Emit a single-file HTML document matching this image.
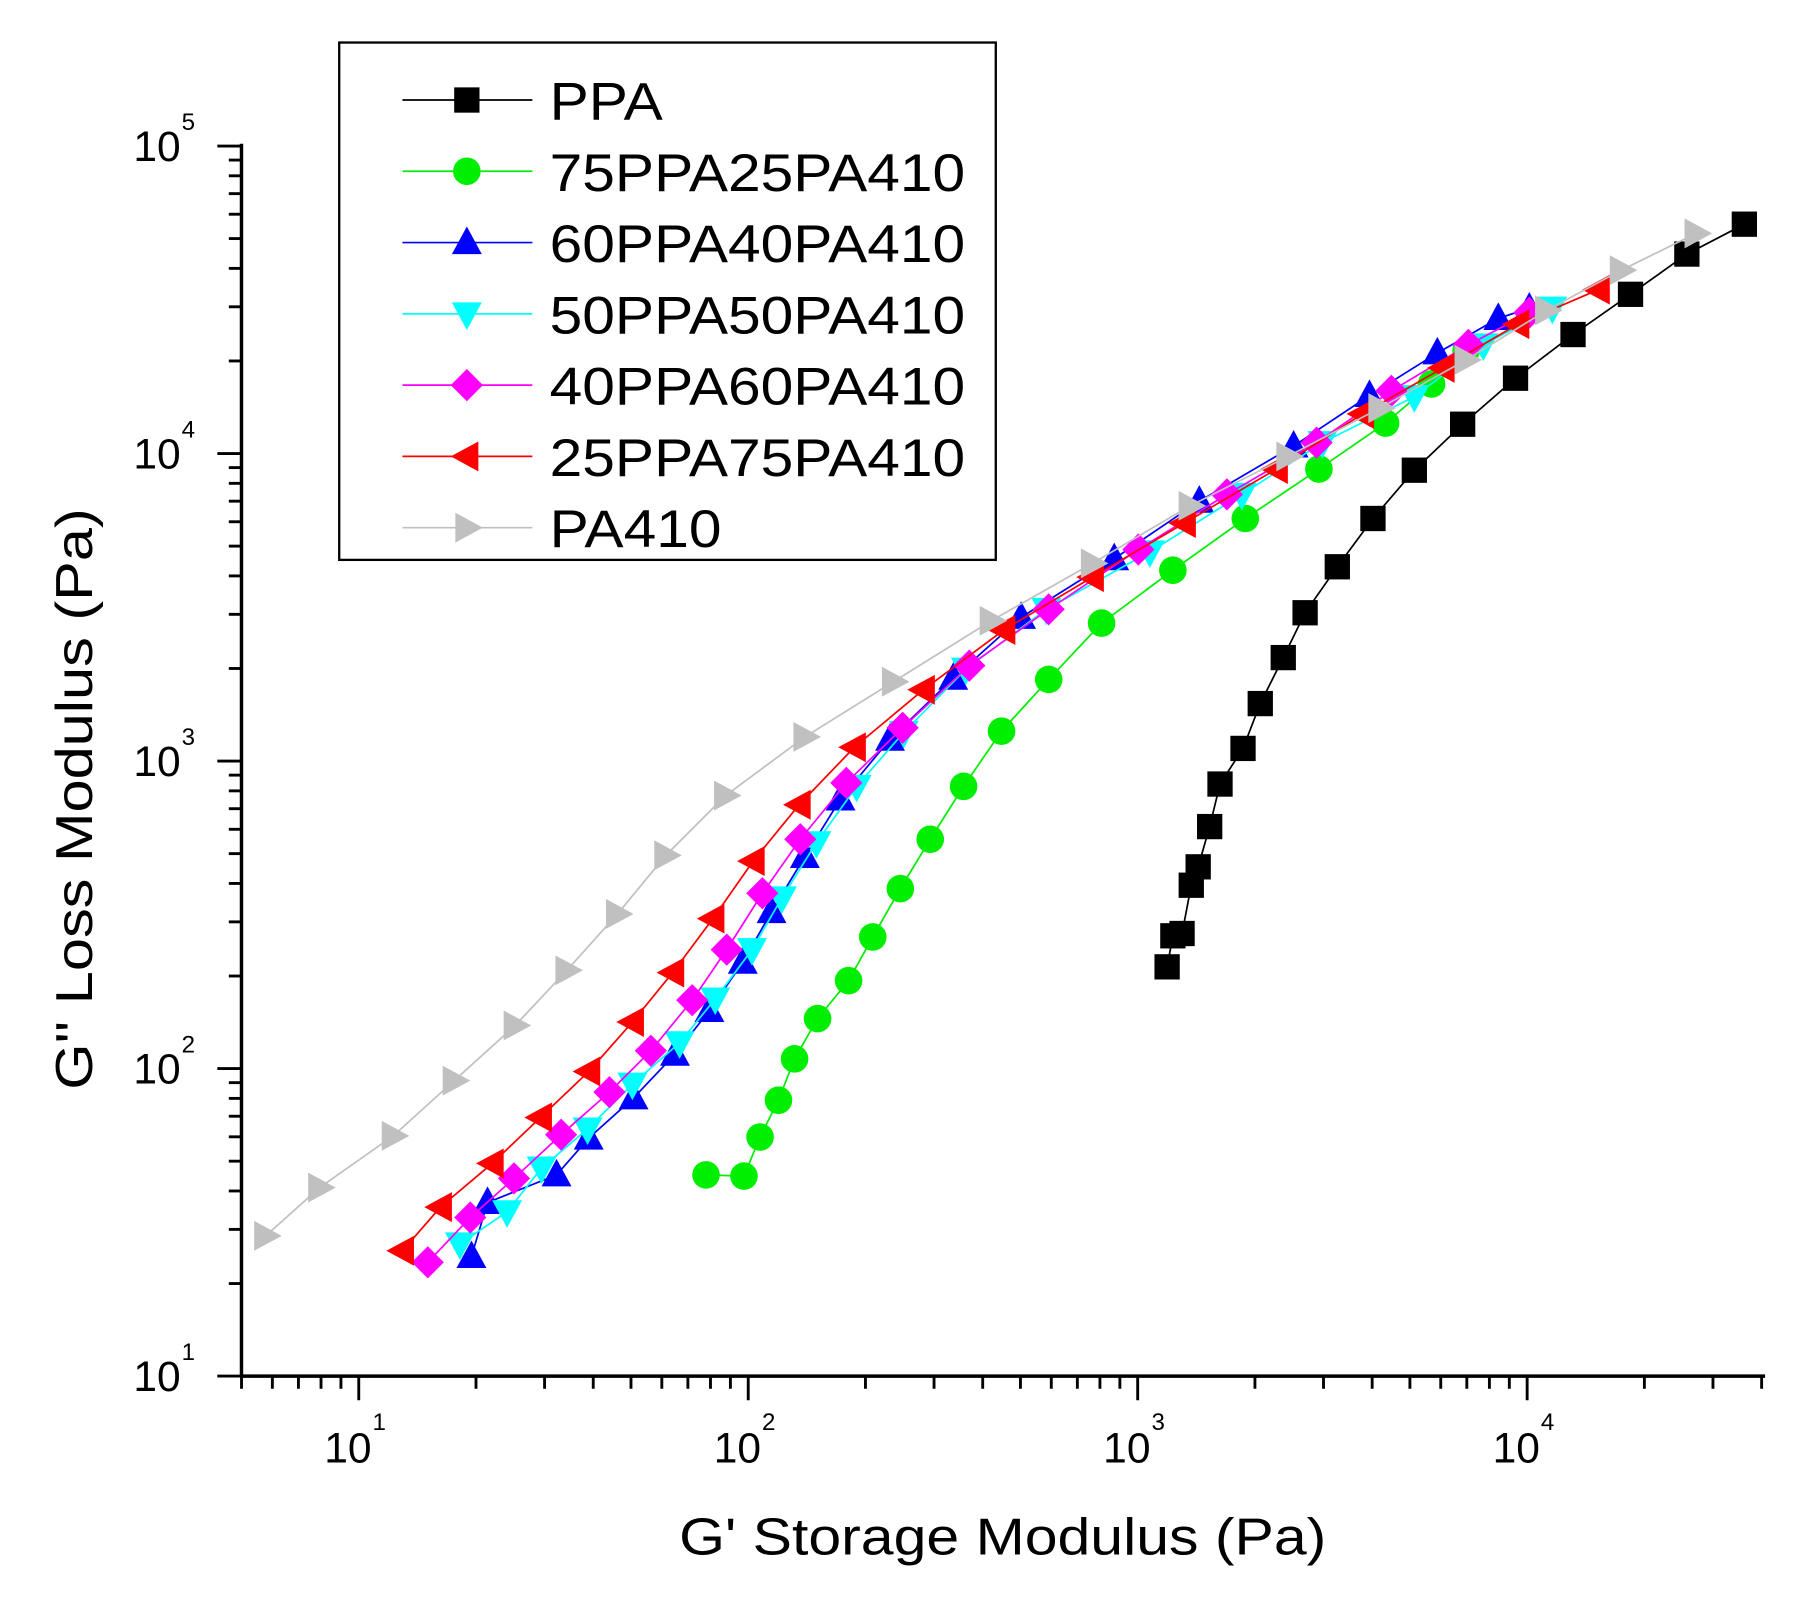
<!DOCTYPE html>
<html><head><meta charset="utf-8"><style>
html,body{margin:0;padding:0;background:#fff;}
svg{display:block;}
text{font-family:"Liberation Sans",Arial,sans-serif;fill:#000;}
</style></head><body>
<svg id="s" width="1803" height="1598" viewBox="0 0 1568 1390" preserveAspectRatio="none" xmlns="http://www.w3.org/2000/svg">
<rect width="1568" height="1390" fill="#fff"/>
<g id="axes" stroke="#000" stroke-width="3" fill="none">
<line x1="210" y1="125" x2="210" y2="1198"/>
<line x1="209" y1="1197" x2="1535" y2="1197"/>
</g>
<g id="ticks" stroke="#000" stroke-width="2.5"></g>
<g id="labels" font-size="37"></g>
<text transform="translate(872,1352) scale(1.14,1)" font-size="45" text-anchor="middle">G' Storage Modulus (Pa)</text>
<text transform="translate(80,695) rotate(-90) scale(1.15,1)" font-size="45" text-anchor="middle">G'' Loss Modulus (Pa)</text>
<g id="data"></g>
<rect x="295" y="37" width="571" height="450" fill="#fff" stroke="#000" stroke-width="2"/>
<g id="legend" font-size="46"></g>
</svg>
<script>
var NS="http://www.w3.org/2000/svg";
function el(t,a,p){var e=document.createElementNS(NS,t);for(var k in a)e.setAttribute(k,a[k]);p.appendChild(e);return e;}
var X0=312,DX=338.7,Y1=1197,DY=267.5;
function xp(v){return X0+(Math.log10(v)-1)*DX;}
function yp(v){return Y1-(Math.log10(v)-1)*DY;}
var tk=document.getElementById('ticks'),lb=document.getElementById('labels');
for(var d=0;d<=4;d++){for(var m=1;m<10;m++){var v=m*Math.pow(10,d);var x=xp(v);if(x<209||x>1536)continue;
 el('line',{x1:x,y1:1197,x2:x,y2:1197+(m==1?21:11)},tk);}}
for(var d=1;d<=5;d++){for(var m=1;m<10;m++){if(d==5&&m>1)break;var v=m*Math.pow(10,d);var y=yp(v);
 el('line',{x1:210,y1:y,x2:210-(m==1?21:11),y2:y},tk);}}
for(var d=1;d<=4;d++){var x=xp(Math.pow(10,d));var t=el('text',{x:x-30,y:1272},lb);t.textContent='10';
 var s=el('text',{x:x+12,y:1244,'font-size':21},lb);s.textContent=d;}
for(var d=1;d<=5;d++){var y=yp(Math.pow(10,d));var t=el('text',{x:116,y:y+13},lb);t.textContent='10';
 var s=el('text',{x:158,y:y-14,'font-size':21},lb);s.textContent=d;}
var series=[
{c:'#000',m:'sq',n:'PPA',p:[[1015,841],[1020,814],[1028,812],[1036,770],[1042,754],[1052,719],[1061,682],[1081,651],[1096,612],[1116,572],[1135,533],[1163,493],[1194,451],[1230,409],[1272,369],[1318,329],[1368,291],[1418,256],[1467,221],[1517,195]]},
{c:'#00ee00',m:'ci',n:'75PPA25PA410',p:[[614,1022],[647,1023],[661,989],[677,957],[691,921],[711,886],[738,853],[759,815],[783,773],[809,730],[838,684],[871,636],[912,591],[958,542],[1020,496],[1083,451],[1147,408],[1205,368],[1245,334],[1275,305]]},
{c:'#0000ff',m:'up',n:'60PPA40PA410',p:[[410,1093],[424,1046],[484,1022],[512,990],[551,955],[587,917],[617,879],[646,837],[671,793],[700,745],[731,695],[774,643],[829,590],[888,537],[969,486],[1043,436],[1125,388],[1191,344],[1250,307],[1303,277],[1330,268]]},
{c:'#00ffff',m:'dn',n:'50PPA50PA410',p:[[400,1082],[441,1054],[471,1016],[511,982],[550,943],[591,907],[622,869],[654,826],[680,781],[710,733],[745,684],[786,637],[840,582],[910,530],[1000,480],[1080,430],[1150,385],[1230,345],[1290,300],[1350,268]]},
{c:'#ff00ff',m:'di',n:'40PPA60PA410',p:[[372,1098],[409,1059],[447,1025],[488,987],[530,950],[566,914],[602,870],[632,826],[663,777],[696,730],[736,681],[785,633],[843,579],[912,530],[990,478],[1067,430],[1145,385],[1210,340],[1277,300],[1330,272]]},
{c:'#ff0000',m:'lt',n:'25PPA75PA410',p:[[350,1088],[383,1050],[428,1012],[470,972],[512,932],[550,889],[585,846],[620,799],[655,749],[695,700],[743,650],[803,600],[873,548],[950,502],[1030,455],[1110,408],[1185,360],[1255,320],[1320,282],[1390,252]]},
{c:'#c0c0c0',m:'rt',n:'PA410',p:[[231,1075],[278,1033],[342,988],[395,940],[448,892],[493,844],[537,795],[579,744],[631,692],[700,641],[777,593],[862,540],[950,490],[1035,440],[1120,397],[1200,355],[1275,313],[1345,270],[1410,235],[1475,203]]}
];
function mk(g,t,x,y,c){var r=12;
 if(t=='sq')el('rect',{x:x-11,y:y-11,width:22,height:22,fill:c},g);
 else if(t=='ci')el('circle',{cx:x,cy:y,r:12,fill:c},g);
 else{var p;
  if(t=='up')p=[[x,y-r-2],[x-r-1,y+r-2],[x+r+1,y+r-2]];
  if(t=='dn')p=[[x,y+r+2],[x-r-1,y-r+2],[x+r+1,y-r+2]];
  if(t=='lt')p=[[x-r-2,y],[x+r-2,y-r-1],[x+r-2,y+r+1]];
  if(t=='rt')p=[[x+r+2,y],[x-r+2,y-r-1],[x-r+2,y+r+1]];
  if(t=='di')p=[[x,y-14],[x+14,y],[x,y+14],[x-14,y]];
  el('polygon',{points:p.map(function(q){return q.join(',')}).join(' '),fill:c},g);}}
var dg=document.getElementById('data'),lg=document.getElementById('legend');
series.forEach(function(s,i){
 el('polyline',{points:s.p.map(function(q){return q.join(',')}).join(' '),fill:'none',stroke:s.c,'stroke-width':1.5},dg);
 s.p.forEach(function(q){mk(dg,s.m,q[0],q[1],s.c);});
 var y=87+62*i;
 el('line',{x1:350,y1:y,x2:463,y2:y,stroke:s.c,'stroke-width':1.5},lg);
 mk(lg,s.m,406,y,s.c);
 var t=el('text',{transform:'translate(478,'+(y+17)+') scale(1.11,1)'},lg);t.textContent=s.n;
});
</script>
</body></html>
